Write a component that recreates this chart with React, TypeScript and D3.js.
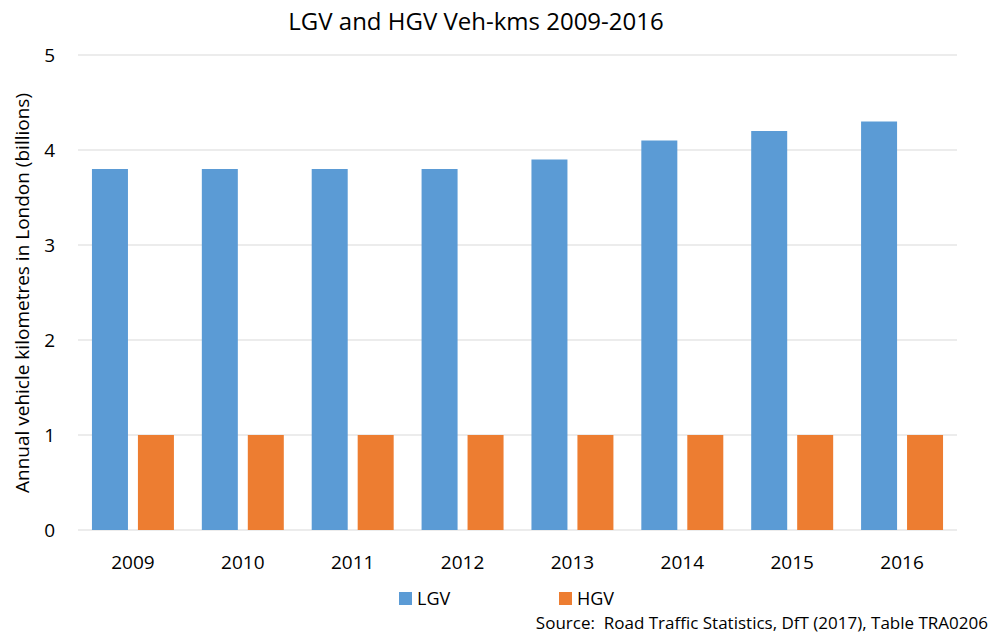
import { useEffect, useRef } from "react";
import * as d3 from "d3";

const years = ["2009", "2010", "2011", "2012", "2013", "2014", "2015", "2016"];
const lgv = [3.8, 3.8, 3.8, 3.8, 3.9, 4.1, 4.2, 4.3];
const hgv = [1, 1, 1, 1, 1, 1, 1, 1];
const series = ["LGV", "HGV"];
const colors = ["#5B9BD5", "#ED7D31"];
const yTicks = [0, 1, 2, 3, 4, 5];

const FONT = "'Segoe UI', 'Open Sans', 'Noto Sans', sans-serif";

export default function App() {
  const ref = useRef<SVGSVGElement>(null);

  useEffect(() => {
    if (!ref.current) return;
    const svg = d3.select(ref.current);
    svg.selectAll("*").remove();

    const left = 78;
    const right = 957;
    const top = 55;
    const bottom = 530;

    const x0 = d3.scaleBand().domain(years).range([left, right]).padding(0);
    const bw = x0.bandwidth();
    const x1 = d3
      .scaleBand()
      .domain(series)
      .range([bw * 0.127, bw * 0.873])
      .paddingInner(0.217)
      .paddingOuter(0);
    const y = d3.scaleLinear().domain([0, 5]).range([bottom, top]);

    svg
      .append("rect")
      .attr("width", 992)
      .attr("height", 633)
      .attr("fill", "#fff");

    // gridlines
    svg
      .selectAll(".grid")
      .data(yTicks)
      .enter()
      .append("line")
      .attr("x1", left)
      .attr("x2", right)
      .attr("y1", (d) => y(d))
      .attr("y2", (d) => y(d))
      .attr("stroke", "#D9D9D9")
      .attr("stroke-width", 1);

    // y tick labels
    svg
      .selectAll(".ytick")
      .data(yTicks)
      .enter()
      .append("text")
      .attr("x", 55)
      .attr("y", (d) => y(d))
      .attr("dy", "0.35em")
      .attr("text-anchor", "end")
      .style("font-family", FONT)
      .style("font-size", "19px")
      .style("fill", "#000")
      .text((d) => d);

    const data = years.map((yr, i) => ({ year: yr, values: [lgv[i], hgv[i]] }));

    const groups = svg
      .selectAll(".grp")
      .data(data)
      .enter()
      .append("g")
      .attr("transform", (d) => `translate(${x0(d.year)},0)`);

    groups
      .selectAll("rect")
      .data((d) => d.values.map((v, i) => ({ key: series[i], v, c: colors[i] })))
      .enter()
      .append("rect")
      .attr("x", (d) => x1(d.key)!)
      .attr("width", x1.bandwidth())
      .attr("y", (d) => y(d.v))
      .attr("height", (d) => y(0) - y(d.v))
      .attr("fill", (d) => d.c);

    // x labels
    svg
      .selectAll(".xtick")
      .data(years)
      .enter()
      .append("text")
      .attr("x", (d) => x0(d)! + bw / 2)
      .attr("y", 569)
      .attr("text-anchor", "middle")
      .style("font-family", FONT)
      .style("font-size", "19px")
      .style("fill", "#000")
      .text((d) => d);

    // title
    svg
      .append("text")
      .attr("x", 476)
      .attr("y", 30)
      .attr("text-anchor", "middle")
      .style("font-family", FONT)
      .style("font-size", "24px")
      .style("fill", "#000")
      .text("LGV and HGV Veh-kms 2009-2016");

    // y axis title
    svg
      .append("text")
      .attr("transform", `translate(29,293) rotate(-90)`)
      .attr("text-anchor", "middle")
      .style("font-family", FONT)
      .style("font-size", "19px")
      .style("fill", "#000")
      .text("Annual vehicle kilometres in London (billions)");

    // legend
    const legendX = [399, 559];
    series.forEach((s, i) => {
      svg
        .append("rect")
        .attr("x", legendX[i])
        .attr("y", 592)
        .attr("width", 13)
        .attr("height", 13)
        .attr("fill", colors[i]);
      svg
        .append("text")
        .attr("x", legendX[i] + 18)
        .attr("y", 605)
        .style("font-family", FONT)
        .style("font-size", "18px")
        .style("fill", "#000")
        .text(s);
    });

    svg
      .append("text")
      .attr("x", 988)
      .attr("y", 629)
      .attr("text-anchor", "end")
      .style("font-family", FONT)
      .style("font-size", "17px")
      .style("fill", "#000")
      .attr("xml:space", "preserve")
      .style("white-space", "pre")
      .text("Source:  Road Traffic Statistics, DfT (2017), Table TRA0206");
  }, []);

  return (
    <svg
      ref={ref}
      width={992}
      height={633}
      style={{ position: "absolute", left: 0, top: 0 }}
    />
  );
}
